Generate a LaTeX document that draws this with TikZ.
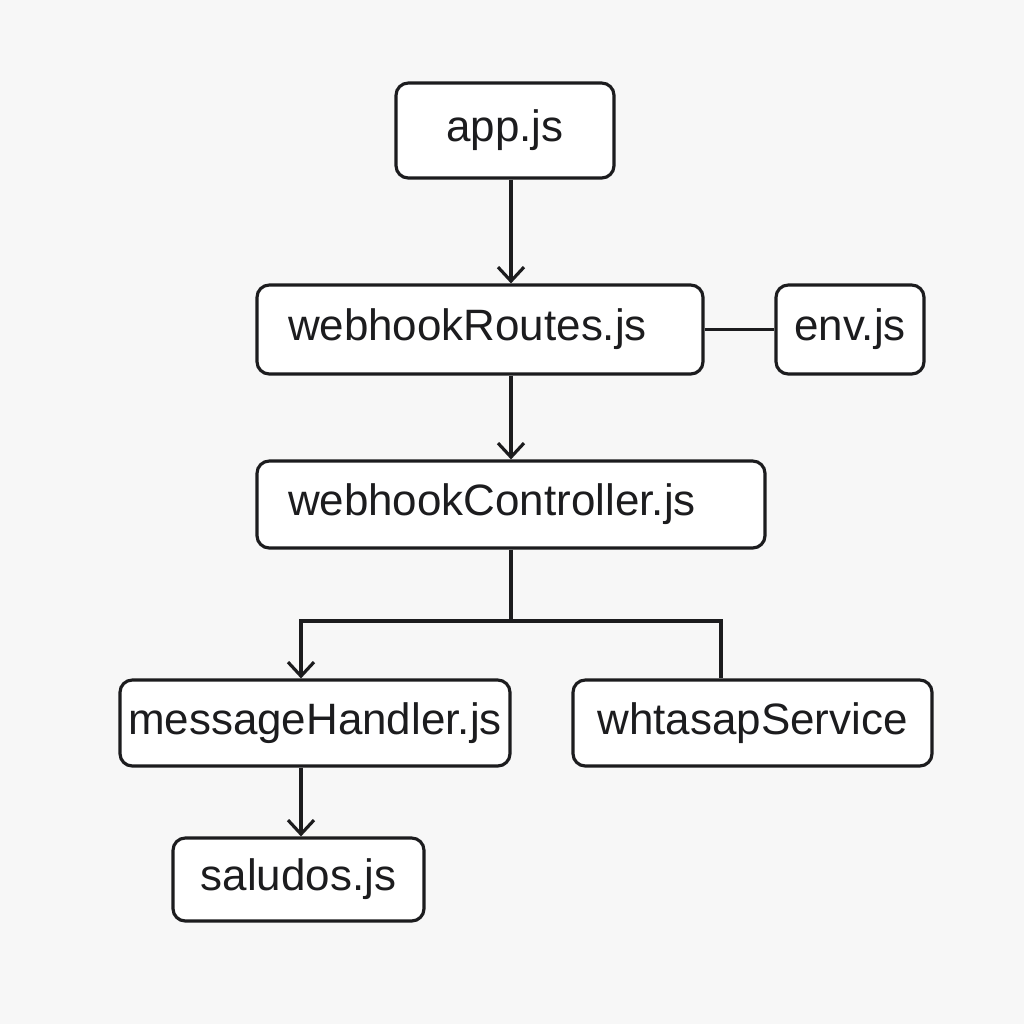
\documentclass[tikz,border=0pt]{standalone}
\usepackage{fontspec}
\setmainfont{Liberation Sans}
\usepackage{xcolor}
\usepackage{tikz}
\usetikzlibrary{positioning,arrows.meta}
\definecolor{ink}{HTML}{1C1C1E}
\definecolor{paper}{HTML}{F7F7F7}

\begin{document}
\begin{tikzpicture}[
    box/.style={draw=ink, fill=white, rounded corners=3.5pt, line width=0.9pt, inner sep=0pt, text=ink, font=\fontsize{12.5}{15}\selectfont},
    leftbox/.style={box, align=left, inner xsep=0.31cm},
    link/.style={draw=ink, line width=0.9pt},
    arr/.style={link, -{Straight Barb[length=1.4mm, width=2.6mm, line width=0.9pt]}}
]
    % Background
    \fill[paper] (0,0) rectangle (10.24,-10.24);

    % Files
    \node [box, minimum width=2.18cm, minimum height=0.95cm] (app) at (5.05,-1.305) {app.js};
    \node [leftbox, text width=3.84cm, minimum height=0.89cm] (routes) at (4.80,-3.295) {webhookRoutes.js};
    \node [box, minimum width=1.48cm, minimum height=0.89cm] (env) at (8.50,-3.295) {env.js};
    \node [leftbox, text width=4.46cm, minimum height=0.87cm] (ctrl) at (5.11,-5.045) {webhookController.js};
    \node [box, minimum width=3.90cm, minimum height=0.86cm] (handler) at (3.15,-7.23) {messageHandler.js};
    \node [box, minimum width=3.59cm, minimum height=0.86cm] (svc) at (7.525,-7.23) {whtasapService};
    \node [box, minimum width=2.51cm, minimum height=0.83cm] (saludos) at (2.985,-8.795) {saludos.js};

    % Links
    \draw [arr] (app.south -| ctrl.north) -- (routes.north -| ctrl.north);
    \draw [link] (routes) -- (env);
    \draw [arr] (routes.south -| ctrl.north) -- (ctrl.north);

    \coordinate (fork) at (5.11,-6.21);
    \draw [link] (ctrl.south) -- (fork);
    \draw [arr] (fork) -| ([xshift=-0.14cm]handler.north);
    \draw [link] (fork) -| ([xshift=-0.315cm]svc.north);
    \draw [arr] ([xshift=-0.14cm]handler.south) -- ([xshift=-0.14cm]handler.south |- saludos.north);
\end{tikzpicture}
\end{document}
